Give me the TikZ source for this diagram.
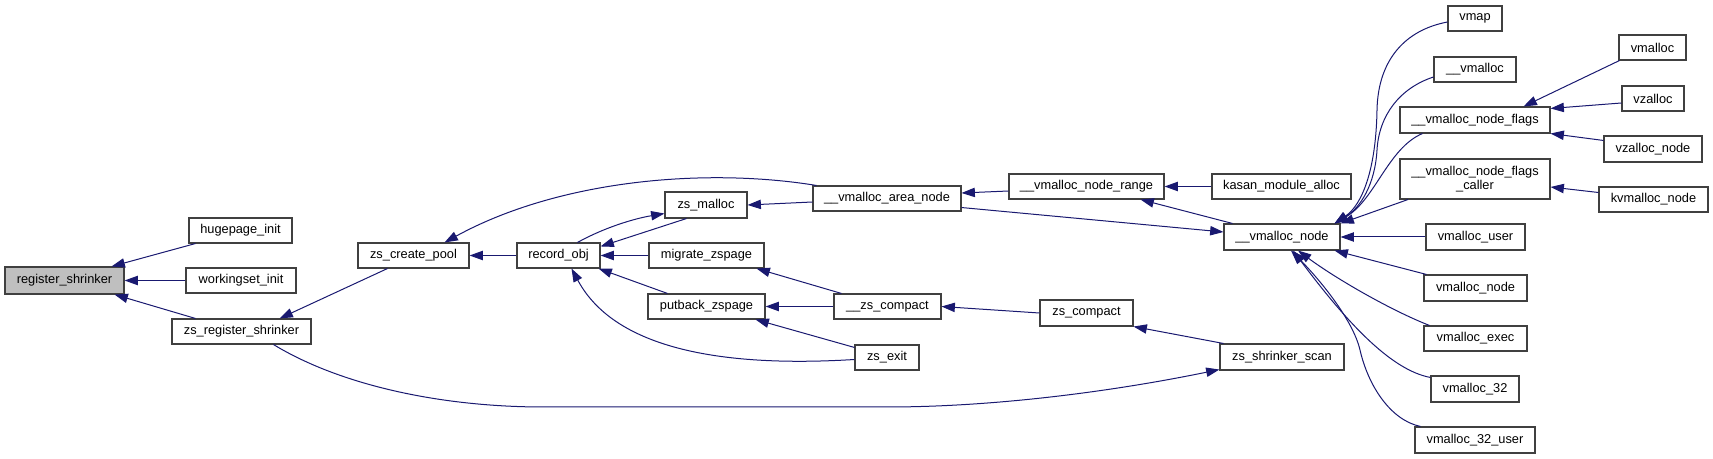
\documentclass[tikz,border=0pt]{standalone}
\usepackage{fontspec}
\setmainfont{Liberation Sans}
\usetikzlibrary{arrows.meta,calc}
\definecolor{edgeblue}{RGB}{25,25,112}
\definecolor{boxline}{RGB}{64,64,64}
\newcommand\bx[7][]{\node[box,#1,minimum width={(#5-#3)*0.75pt},minimum height={(#6-#4)*0.75pt}] (#2) at ({(#3+#5)/2},{(#4+#6)/2}) {#7};}
\begin{document}
\begin{tikzpicture}[x=0.75pt,y=-0.75pt,
  box/.style={draw=boxline,line width=0.8pt,fill=white,inner sep=0pt,align=center,font=\fontsize{9.6pt}{10pt}\selectfont},
  edge/.style={draw=edgeblue,line width=0.75pt,-{Triangle[length=10pt,width=7pt]},fill=none}]
\useasboundingbox (0,0) rectangle (1713,459);
\bx[fill=black!25]{reg}{5}{267}{124}{294}{register\_shrinker}
\bx{hug}{189}{218}{292}{243}{hugepage\_init}
\bx{ws}{186}{268}{296}{293}{workingset\_init}
\bx{zsreg}{172}{319}{311}{344}{zs\_register\_shrinker}
\bx{zcp}{358}{243}{469}{268}{zs\_create\_pool}
\bx{robj}{517}{243}{600}{268}{record\_obj}
\bx{zsm}{665}{192}{747}{218}{zs\_malloc}
\bx{mz}{649}{243}{764}{268}{migrate\_zspage}
\bx{pz}{648}{294}{765}{319}{putback\_zspage}
\bx{van}{813}{186}{961}{211}{\_\_vmalloc\_area\_node}
\bx{zc}{834}{294}{941}{319}{\_\_zs\_compact}
\bx{zsexit}{855}{345}{919}{370}{zs\_exit}
\bx{vnr}{1009}{174}{1164}{199}{\_\_vmalloc\_node\_range}
\bx{zcomp}{1040}{300}{1133}{326}{zs\_compact}
\bx{kasan}{1212}{174}{1351}{199}{kasan\_module\_alloc}
\bx{vn}{1224}{224}{1340}{250}{\_\_vmalloc\_node}
\bx{zss}{1220}{344}{1344}{370}{zs\_shrinker\_scan}
\bx{vmap}{1448}{6}{1502}{31}{vmap}
\bx{vmal}{1434}{57}{1516}{82}{\_\_vmalloc}
\bx{vnf}{1400}{107}{1550}{133}{\_\_vmalloc\_node\_flags}
\bx{vnfc}{1400}{159}{1550}{199}{\_\_vmalloc\_node\_flags\\\_caller}
\bx{vu}{1426}{224}{1525}{250}{vmalloc\_user}
\bx{vnode}{1424}{275}{1527}{301}{vmalloc\_node}
\bx{vexec}{1424}{326}{1527}{351}{vmalloc\_exec}
\bx{v32}{1431}{376}{1519}{402}{vmalloc\_32}
\bx{v32u}{1415}{427}{1535}{453}{vmalloc\_32\_user}
\bx{vmalloc}{1619}{35}{1686}{60}{vmalloc}
\bx{vzalloc}{1622}{86}{1684}{111}{vzalloc}
\bx{vzn}{1604}{136}{1702}{162}{vzalloc\_node}
\bx{kvn}{1599}{187}{1708}{212}{kvmalloc\_node}
% edges
\draw[edge] ($(hug.south west)+(7,0)$) -- ($(reg.north east)+(-13,0)$);
\draw[edge] (ws.west) -- (reg.east);
\draw[edge] ($(zsreg.north west)+(24,0)$) -- ($(reg.south east)+(-10,0)$);
\draw[edge] ($(zcp.south west)+(30,0)$) -- ($(zsreg.north east)+(-32,0)$);
\draw[edge] (robj.west) -- (zcp.east);
\draw[edge] ($(van.north west)+(4,0)$) .. controls ($(van.north west)+(-106,-18)$) and ($(zcp.north east)+(90,-63)$) .. ($(zcp.north east)+(-25,0)$);
\draw[edge] ($(robj.north west)+(61,0)$) .. controls ($(robj.north west)+(88,-15)$) and ($(zsm.south west)+(-30,0)$) .. ($(zsm.south west)+(0,-5)$);
\draw[edge] ($(zsm.south west)+(22,0)$) -- ($(robj.north east)+(0,4)$);
\draw[edge] (mz.west) -- (robj.east);
\draw[edge] ($(pz.north west)+(20,0)$) -- ($(robj.south east)+(-2,0)$);
\draw[edge] ($(zsexit.west)+(0,2)$) .. controls ($(zsexit.west)+(-195,14)$) and ($(robj.south)+(41,52)$) .. ($(robj.south)+(13,0)$);
\draw[edge] ($(zsexit.north west)+(0,3)$) -- ($(pz.south east)+(-10,0)$);
\draw[edge] (zc.west) -- (pz.east);
\draw[edge] ($(zc.north west)+(8,0)$) -- ($(mz.south east)+(-8,0)$);
\draw[edge] (zcomp.west) -- (zc.east);
\draw[edge] ($(zss.north west)+(4,0)$) -- (zcomp.south east);
\draw[edge] ($(zsreg.south west)+(102,0)$) .. controls (340,385) and (440,407) .. (544,407) -- (887,407) .. controls (1000,407) and (1120,390) .. ($(zss.south west)+(0,-1)$);
\draw[edge] ($(van.west)+(0,3.5)$) -- (zsm.east);
\draw[edge] ($(van.south east)+(0,-4)$) -- ($(vn.west)+(0,-5)$);
\draw[edge] ($(vnr.west)+(0,4.5)$) -- ($(van.east)+(0,-5.5)$);
\draw[edge] ($(vn.north west)+(9,0)$) -- ($(vnr.south east)+(-24,0)$);
\draw[edge] (kasan.west) -- (vnr.east);
\draw[edge] ($(vmap.west)+(0,3.5)$) .. controls (1405,30) and (1378,60) .. (1377,110) .. controls (1376,170) and (1362,205) .. ($(vn.north east)+(-6,0)$);
\draw[edge] ($(vmal.west)+(0,7.5)$) .. controls (1400,88) and (1379,115) .. (1377,150) .. controls (1375,185) and (1360,208) .. ($(vn.north east)+(-6,0)$);
\draw[edge] ($(vnf.south west)+(23,0)$) .. controls (1388,148) and (1375,200) .. ($(vn.north east)+(-6,0)$);
\draw[edge] ($(vnfc.south west)+(8.5,0)$) -- (vn.north east);
\draw[edge] (vu.west) -- (vn.east);
\draw[edge] ($(vnode.north west)+(3,0)$) -- ($(vn.south east)+(-6,0)$);
\draw[edge] ($(vexec.north west)+(6,0)$) .. controls (1390,310) and (1335,278) .. ($(vn.south)+(16,0)$);
\draw[edge] ($(v32.north west)+(0,2)$) .. controls (1390,370) and (1345,320) .. ($(vn.south)+(11,0)$);
\draw[edge] ($(v32u.north west)+(6,0)$) .. controls (1390,420) and (1368,385) .. (1360,350) .. controls (1353,320) and (1320,280) .. ($(vn.south)+(9,0)$);
\draw[edge] ($(vmalloc.south west)+(1,0)$) -- ($(vnf.north east)+(-27,0)$);
\draw[edge] ($(vzalloc.west)+(0,4.5)$) -- ($(vnf.north east)+(0,2)$);
\draw[edge] ($(vzn.north west)+(0,5)$) -- (vnf.south east);
\draw[edge] ($(kvn.west)+(0,-7)$) -- ($(vnfc.east)+(0,8)$);
\end{tikzpicture}
\end{document}
